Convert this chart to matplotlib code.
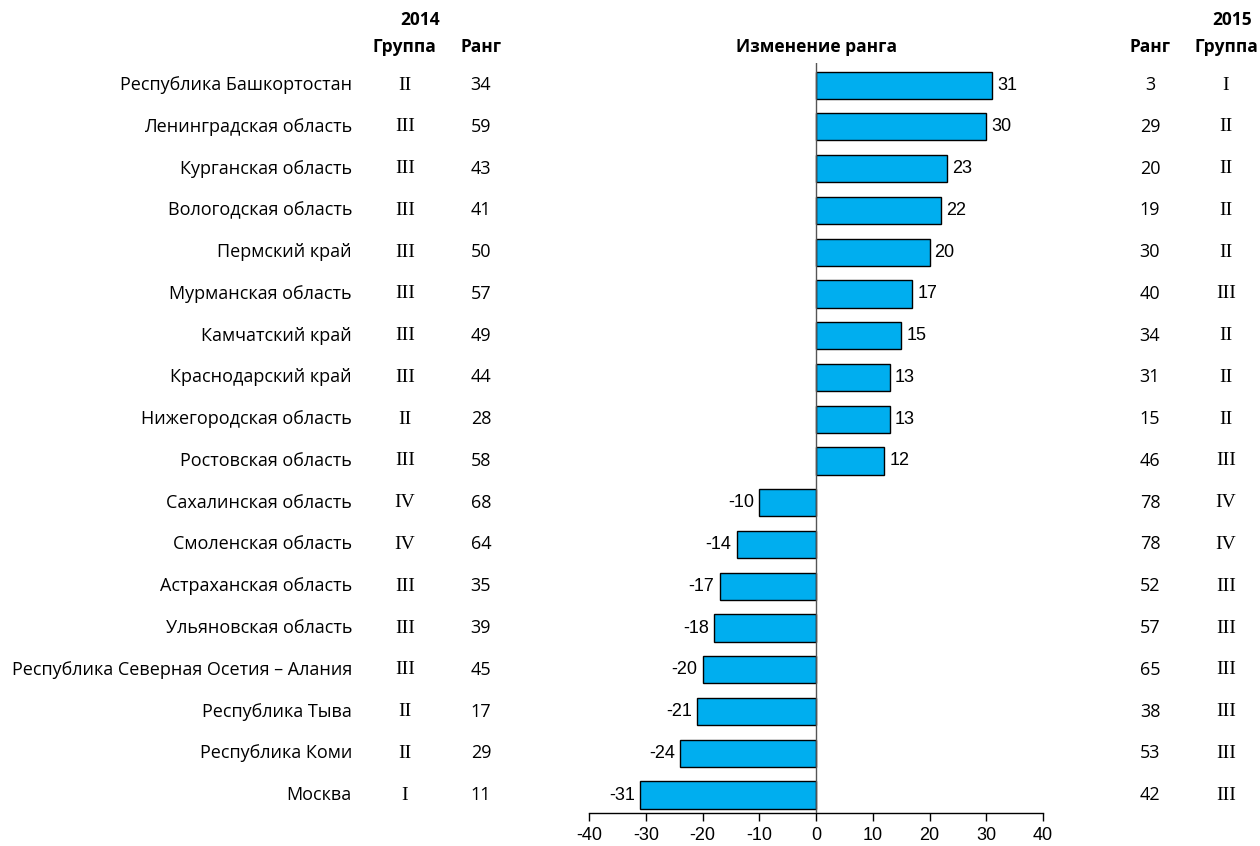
import matplotlib
matplotlib.use("Agg")
import matplotlib.pyplot as plt
import matplotlib.transforms as mtransforms
from matplotlib import font_manager

regions = ["Республика Башкортостан", "Ленинградская область", "Курганская область",
           "Вологодская область", "Пермский край", "Мурманская область", "Камчатский край",
           "Краснодарский край", "Нижегородская область", "Ростовская область",
           "Сахалинская область", "Смоленская область", "Астраханская область",
           "Ульяновская область", "Республика Северная Осетия – Алания", "Республика Тыва",
           "Республика Коми", "Москва"]
group2014 = ["II", "III", "III", "III", "III", "III", "III", "III", "II", "III",
             "IV", "IV", "III", "III", "III", "II", "II", "I"]
rank2014 = [34, 59, 43, 41, 50, 57, 49, 44, 28, 58, 68, 64, 35, 39, 45, 17, 29, 11]
change = [31, 30, 23, 22, 20, 17, 15, 13, 13, 12, -10, -14, -17, -18, -20, -21, -24, -31]
rank2015 = [3, 29, 20, 19, 30, 40, 34, 31, 15, 46, 78, 78, 52, 57, 65, 38, 53, 42]
group2015 = ["I", "II", "II", "II", "II", "III", "II", "II", "II", "III",
             "IV", "IV", "III", "III", "III", "III", "III", "III"]
xticks = [-40, -30, -20, -10, 0, 10, 20, 30, 40]

names = {f.name for f in font_manager.fontManager.ttflist}
narrow = "Liberation Sans Narrow" if "Liberation Sans Narrow" in names else "Liberation Sans"
main_font = "Open Sans"
serif_font = "Liberation Serif"

W, H = 1260, 846
fig = plt.figure(figsize=(W / 100, H / 100), dpi=100)
ax = fig.add_axes([589 / W, 1 - 813 / H, (1043 - 589) / W, (813 - 63) / H])

n = len(regions)
ypos = list(range(n))
ax.barh(ypos, change, height=0.65, color="#00AEEF", edgecolor="black", linewidth=1.0, zorder=2)
ax.set_xlim(-40, 40)
ax.set_ylim(n - 1 + 0.43, -0.53)
ax.axvline(0, color="#555555", linewidth=1.0, zorder=3)
for s in ["top", "right", "left"]:
    ax.spines[s].set_visible(False)
ax.spines["bottom"].set_linewidth(1.0)
ax.set_yticks([])
ax.set_xticks(xticks)
ax.set_xticklabels([str(t) for t in xticks], fontfamily=narrow, fontsize=13)
ax.tick_params(axis="x", length=6, width=1.0, pad=4)

for y, v in zip(ypos, change):
    if v >= 0:
        ax.text(v + 0.9, y, str(v), va="center", ha="left", fontfamily=narrow, fontsize=13)
    else:
        ax.text(v - 0.9, y, str(v), va="center", ha="right", fontfamily=narrow, fontsize=13)

tr = mtransforms.blended_transform_factory(fig.transFigure, ax.transData)
fs = 13
for y in ypos:
    fig.text(352 / W, y, regions[y], transform=tr, ha="right", va="center",
             fontfamily=main_font, fontsize=fs)
    fig.text(405 / W, y, group2014[y], transform=tr, ha="center", va="center",
             fontfamily=serif_font, fontsize=fs + 1)
    fig.text(481 / W, y, str(rank2014[y]), transform=tr, ha="center", va="center",
             fontfamily=main_font, fontsize=fs)
    fig.text(1150 / W, y, str(rank2015[y]), transform=tr, ha="center", va="center",
             fontfamily=main_font, fontsize=fs)
    fig.text(1226 / W, y, group2015[y], transform=tr, ha="center", va="center",
             fontfamily=serif_font, fontsize=fs + 1)

hdr = dict(fontfamily=main_font, fontsize=12.5, fontweight="bold", va="center", ha="center")
fig.text(420 / W, 1 - 20 / H, "2014", **hdr)
fig.text(404 / W, 1 - 47 / H, "Группа", **hdr)
fig.text(481 / W, 1 - 47 / H, "Ранг", **hdr)
fig.text(817 / W, 1 - 47 / H, "Изменение ранга", **hdr)
fig.text(1232 / W, 1 - 20 / H, "2015", **hdr)
fig.text(1150 / W, 1 - 47 / H, "Ранг", **hdr)
fig.text(1226 / W, 1 - 47 / H, "Группа", **hdr)

fig.savefig("out.png", dpi=100)
